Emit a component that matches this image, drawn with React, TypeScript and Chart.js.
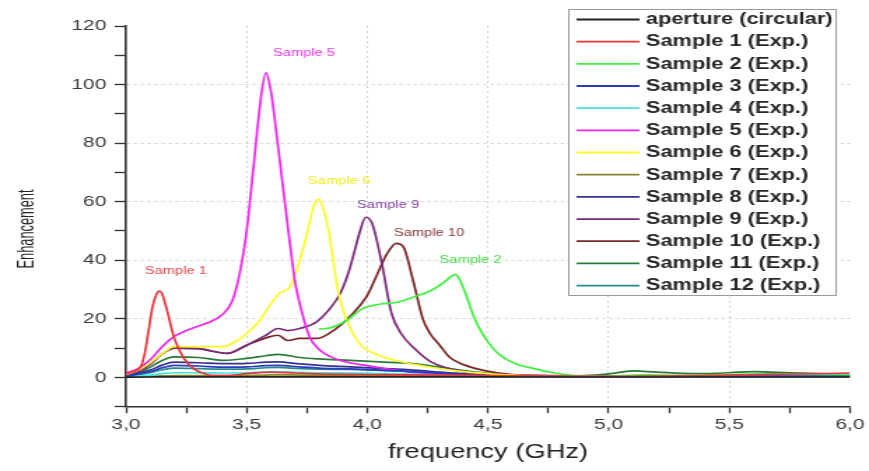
import React, { useEffect, useRef } from "react";
import { Chart, registerables } from "chart.js";

Chart.register(...registerables);

// ---------- axis ticks ----------
const xTicks = [3.0, 3.25, 3.5, 3.75, 4.0, 4.25, 4.5, 4.75, 5.0, 5.25, 5.5, 5.75, 6.0];
const xLabelTicks = [3.0, 3.5, 4.0, 4.5, 5.0, 5.5, 6.0];
const xGridTicks = [3.5, 4.0, 4.5, 5.0, 5.5];
const yTicks = [-10, 0, 10, 20, 30, 40, 50, 60, 70, 80, 90, 100, 110, 120];
const yLabelTicks = [0, 20, 40, 60, 80, 100, 120];
const yGridTicks = [0, 20, 40, 60, 80, 100];
const xTitle = "frequency (GHz)";
const yTitle = "Enhancement";

// ---------- series ----------
const seriesNames = [
  "aperture (circular)",
  "Sample 1 (Exp.)",
  "Sample 2 (Exp.)",
  "Sample 3 (Exp.)",
  "Sample 4 (Exp.)",
  "Sample 5 (Exp.)",
  "Sample 6 (Exp.)",
  "Sample 7 (Exp.)",
  "Sample 8 (Exp.)",
  "Sample 9 (Exp.)",
  "Sample 10 (Exp.)",
  "Sample 11 (Exp.)",
  "Sample 12 (Exp.)",
];
const seriesColors = [
  "#222222", "#e8353c", "#3ff03f", "#2a3cc0", "#3fe3e3", "#ee25ee", "#fbfb2a",
  "#85852a", "#34348f", "#7a2a7a", "#7a2626", "#2a7a3a", "#2a8a8a",
];

// shared frequency grid for the low, flat curves
const fLow = [3.0, 3.1, 3.15, 3.2, 3.3, 3.41, 3.5, 3.58, 3.63, 3.72, 3.8, 3.93, 4.05, 4.18, 4.3, 4.45, 4.6, 5.0, 5.5, 6.0];
const vAperture = [0.1, 0.15, 0.2, 0.2, 0.2, 0.2, 0.2, 0.2, 0.2, 0.2, 0.2, 0.2, 0.2, 0.2, 0.2, 0.2, 0.15, 0.15, 0.15, 0.15];
const v3 = [0.3, 2.0, 3.3, 4.1, 3.9, 3.5, 3.6, 4.0, 4.1, 3.6, 3.2, 2.9, 2.5, 2.0, 1.4, 0.8, 0.4, 0.3, 0.4, 0.4];
const v4 = [0.2, 0.8, 1.3, 1.6, 1.6, 1.5, 1.6, 1.8, 1.9, 1.7, 1.6, 1.5, 1.3, 1.1, 0.8, 0.5, 0.3, 0.2, 0.3, 0.3];
const v7 = [0.2, 0.4, 0.5, 0.6, 0.6, 0.6, 0.7, 0.8, 0.9, 0.8, 0.8, 0.7, 0.7, 0.6, 0.5, 0.4, 0.3, 0.3, 0.3, 0.3];
const v8 = [0.4, 2.5, 4.2, 5.2, 5.0, 4.7, 4.8, 5.2, 5.3, 4.6, 4.1, 3.6, 3.1, 2.6, 1.8, 1.0, 0.5, 0.4, 0.5, 0.5];
const v12 = [0.3, 1.6, 2.6, 3.2, 3.0, 2.8, 2.9, 3.3, 3.4, 3.0, 2.8, 2.7, 2.4, 2.0, 1.4, 0.8, 0.4, 0.3, 0.3, 0.3];

const f1 = [3.0, 3.03, 3.06, 3.075, 3.09, 3.11, 3.13, 3.14, 3.15, 3.17, 3.2, 3.24, 3.28, 3.32, 3.36, 3.42, 3.5, 3.6, 3.7, 3.8, 4.0, 4.3, 4.6, 5.0, 5.5, 6.0];
const v1 = [1.2, 2.0, 3.5, 7, 14, 24, 29, 29.5, 28.5, 23, 13.5, 6.5, 3, 1.4, 0.6, 0.6, 1.3, 1.8, 1.5, 1.2, 1.0, 0.8, 0.5, 0.4, 0.8, 1.5];

const f2 = [3.8, 3.85, 3.915, 3.98, 4.05, 4.12, 4.19, 4.26, 4.31, 4.34, 4.365, 4.385, 4.41, 4.44, 4.48, 4.52, 4.56, 4.62, 4.69, 4.77, 4.85, 4.95, 5.05, 5.15, 5.3, 5.5, 5.7, 5.85, 6.0];
const v2 = [16.5, 17, 19.5, 23.5, 25, 25.6, 27.4, 29.5, 32, 34, 35.2, 33, 28, 21, 14.5, 10, 7, 4.5, 3, 1.6, 0.7, 0.4, 0.6, 0.9, 0.7, 1.0, 1.2, 1.1, 1.0];

const f5 = [3.0, 3.05, 3.1, 3.15, 3.2, 3.25, 3.3, 3.35, 3.4, 3.44, 3.47, 3.5, 3.53, 3.56, 3.58, 3.6, 3.63, 3.67, 3.7, 3.73, 3.76, 3.8, 3.85, 3.9, 4.0, 4.1, 4.2, 4.3, 4.5, 5.0, 5.5, 6.0];
const v5 = [1.5, 3, 6, 10.5, 14, 16, 17.5, 19, 21.5, 26, 35, 50, 73, 96, 104, 98, 79, 52, 33, 22, 14, 9.5, 7, 5.5, 4, 2.7, 1.6, 1.0, 0.5, 0.3, 0.3, 0.3];

const f6 = [3.0, 3.05, 3.1, 3.15, 3.2, 3.3, 3.4, 3.45, 3.5, 3.55, 3.6, 3.64, 3.68, 3.72, 3.75, 3.78, 3.8, 3.82, 3.84, 3.86, 3.88, 3.9, 3.94, 3.98, 4.05, 4.13, 4.27, 4.4, 4.6, 5.0, 5.5, 6.0];
const v6 = [1, 2.5, 5, 8, 10.5, 10.5, 10.5, 12, 15, 19, 25, 29, 31, 40, 49, 59, 61, 57, 50, 39, 29, 23, 15, 10.5, 7.5, 5.5, 3.4, 2, 0.8, 0.4, 0.3, 0.3];

const f9 = [3.0, 3.05, 3.1, 3.15, 3.2, 3.3, 3.42, 3.5, 3.58, 3.63, 3.67, 3.72, 3.79, 3.85, 3.89, 3.925, 3.95, 3.97, 3.993, 4.02, 4.06, 4.1, 4.14, 4.2, 4.26, 4.34, 4.45, 4.6, 5.0, 5.5, 6.0];
const v9 = [0.8, 2, 4.5, 8, 10, 9.8, 8.2, 11, 14.4, 16.7, 16, 16.7, 19, 24, 29, 36.6, 44, 50, 54.7, 52.6, 39, 22, 15, 9.5, 5.5, 3, 1.4, 0.8, 0.5, 0.4, 0.4];

const f10 = [3.0, 3.05, 3.1, 3.15, 3.2, 3.3, 3.42, 3.5, 3.58, 3.63, 3.67, 3.72, 3.79, 3.845, 3.93, 4.0, 4.04, 4.08, 4.12, 4.15, 4.19, 4.23, 4.26, 4.3, 4.34, 4.38, 4.45, 4.52, 4.6, 5.0, 5.5, 6.0];
const v10 = [0.8, 2, 4.5, 8, 10, 9.8, 8.2, 11, 13.5, 14.4, 12.6, 13.3, 13.3, 15.2, 21, 28, 35, 42, 45.8, 44.5, 33, 20, 15, 11, 7, 5, 3, 1.8, 1, 0.5, 0.4, 0.4];

const f11 = [3.0, 3.05, 3.1, 3.15, 3.2, 3.3, 3.41, 3.5, 3.58, 3.63, 3.72, 3.8, 3.93, 4.05, 4.18, 4.3, 4.4, 4.5, 4.6, 4.75, 4.9, 5.0, 5.1, 5.2, 5.35, 5.5, 5.6, 5.75, 5.9, 6.0];
const v11 = [0.5, 1.5, 3.5, 5.8, 7, 6.8, 5.8, 6.5, 7.4, 7.9, 6.8, 6.3, 5.8, 5.3, 4.8, 3.5, 2.3, 1.4, 0.8, 0.5, 0.6, 1.2, 2.2, 1.8, 1.3, 1.6, 2.0, 1.6, 1.2, 1.0];

const seriesFreqs = [fLow, f1, f2, fLow, fLow, f5, f6, fLow, fLow, f9, f10, f11, fLow];
const seriesValues = [vAperture, v1, v2, v3, v4, v5, v6, v7, v8, v9, v10, v11, v12];

// ---------- in-plot annotations ----------
const annLabels = ["Sample 1", "Sample 5", "Sample 6", "Sample 9", "Sample 10", "Sample 2"];
const annX = [3.207, 3.738, 3.883, 4.086, 4.256, 4.428];
const annY = [36.3, 110.6, 67.1, 58.8, 49.2, 40.0];
const annColors = ["#e04848", "#e63ae6", "#eeee22", "#7d3d9c", "#853535", "#45e045"];

const FONT = "'Liberation Sans', Arial, Helvetica, sans-serif";
const near = (arr: number[], v: number) => arr.some((a) => Math.abs(a - v) < 1e-6);

const CANVAS_W = 621;
const CANVAS_H = 471;
const STRETCH = 869 / CANVAS_W;

const overlayPlugin = {
  id: "overlay",
  afterDatasetsDraw(chart: any) {
    const { ctx, scales } = chart;
    const xs = scales.x;
    const ys = scales.y;
    ctx.save();
    ctx.font = `10.5px ${FONT}`;
    ctx.textAlign = "center";
    ctx.textBaseline = "middle";
    annLabels.forEach((t, i) => {
      ctx.fillStyle = annColors[i];
      ctx.fillText(t, xs.getPixelForValue(annX[i]), ys.getPixelForValue(annY[i]));
    });
    ctx.restore();
  },
  afterDraw(chart: any) {
    const { ctx } = chart;
    // y-axis title (slightly condensed, as in the reference)
    ctx.save();
    ctx.translate(20, 229);
    ctx.rotate(-Math.PI / 2);
    ctx.scale(0.8, 1);
    ctx.font = `16px ${FONT}`;
    ctx.fillStyle = "#222222";
    ctx.textAlign = "center";
    ctx.textBaseline = "middle";
    ctx.fillText(yTitle, 0, 0);
    ctx.restore();

    // legend
    const bx = 406.5, by = 9.5, bw = 191, bh = 286;
    ctx.save();
    ctx.fillStyle = "#ffffff";
    ctx.fillRect(bx, by, bw, bh);
    ctx.strokeStyle = "#9a9a9a";
    ctx.lineWidth = 1;
    ctx.strokeRect(bx, by, bw, bh);
    ctx.font = `bold 15.6px ${FONT}`;
    ctx.textBaseline = "middle";
    ctx.textAlign = "left";
    chart.data.datasets.forEach((ds: any, i: number) => {
      const y = 19.5 + i * 22.17;
      ctx.strokeStyle = ds.borderColor;
      ctx.lineWidth = 1.8;
      ctx.beginPath();
      ctx.moveTo(412, y);
      ctx.lineTo(457, y);
      ctx.stroke();
      ctx.fillStyle = "#262626";
      ctx.fillText(ds.label, 461.5, y + 0.5);
    });
    ctx.restore();
  },
};

export default function App() {
  const ref = useRef<HTMLCanvasElement | null>(null);
  useEffect(() => {
    if (!ref.current) return;
    const datasets = seriesNames.map((name, i) => ({
      label: name,
      data: seriesFreqs[i].map((f, j) => ({ x: f, y: seriesValues[i][j] })),
      borderColor: seriesColors[i],
      backgroundColor: seriesColors[i],
      borderWidth: 1.7,
      pointRadius: 0,
      cubicInterpolationMode: "monotone" as const,
      fill: false,
    }));
    const chart = new Chart(ref.current, {
      type: "line",
      data: { datasets },
      plugins: [overlayPlugin],
      options: {
        animation: false,
        responsive: false,
        devicePixelRatio: 1,
        layout: { padding: { top: 26, right: 13.6, left: 0, bottom: 0 } },
        plugins: { legend: { display: false }, tooltip: { enabled: false } },
        scales: {
          x: {
            type: "linear",
            min: 3,
            max: 6,
            afterBuildTicks: (s: any) => {
              s.ticks = xTicks.map((v) => ({ value: v }));
            },
            afterFit: (s: any) => {
              s.height = 64.3;
            },
            ticks: {
              autoSkip: false,
              maxRotation: 0,
              minRotation: 0,
              padding: 3,
              color: "#3a3a3a",
              font: { family: FONT, size: 15 },
              callback: (v: any) => (near(xLabelTicks, Number(v)) ? Number(v).toFixed(1).replace(".", ",") : ""),
            },
            grid: {
              color: (c: any) => (c.tick && near(xGridTicks, c.tick.value) ? "#d0d0d0" : "rgba(0,0,0,0)"),
              lineWidth: 1,
              tickLength: 6.5,
              tickColor: "#333333",
              tickWidth: 1.3,
            },
            border: { color: "#333333", width: 1.6, dash: [2, 3] },
            title: {
              display: true,
              text: xTitle,
              color: "#222222",
              font: { family: FONT, size: 19.5 },
              padding: { top: 0, bottom: 6.5 },
            },
          },
          y: {
            type: "linear",
            min: -10,
            max: 120,
            afterBuildTicks: (s: any) => {
              s.ticks = yTicks.map((v) => ({ value: v }));
            },
            afterFit: (s: any) => {
              s.width = 90;
            },
            ticks: {
              autoSkip: false,
              padding: 6,
              color: "#3a3a3a",
              font: { family: FONT, size: 15 },
              callback: (v: any) => (near(yLabelTicks, Number(v)) ? String(v) : ""),
            },
            grid: {
              color: (c: any) => (c.tick && near(yGridTicks, c.tick.value) ? "#d0d0d0" : "rgba(0,0,0,0)"),
              lineWidth: 1,
              tickLength: 8,
              tickColor: "#333333",
              tickWidth: 1.3,
            },
            border: { color: "#333333", width: 1.6, dash: [2, 3] },
          },
        },
      },
    });
    return () => chart.destroy();
  }, []);

  return (
    <div style={{ position: "absolute", left: 0, top: 0, width: 869, height: 471, overflow: "hidden", background: "#fff" }}>
      <canvas
        ref={ref}
        width={CANVAS_W}
        height={CANVAS_H}
        style={{ transform: `scaleX(${STRETCH})`, transformOrigin: "0 0" }}
      />
    </div>
  );
}
